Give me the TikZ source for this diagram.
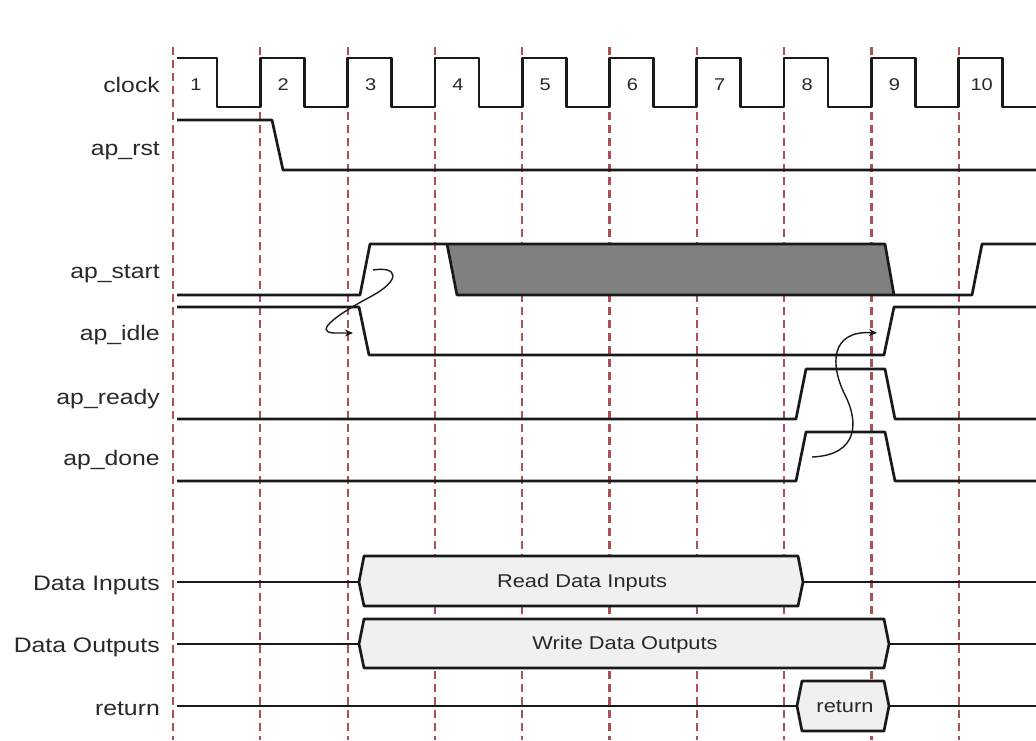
\documentclass[tikz,border=0pt]{standalone}
\usepackage{fontspec}
\setmainfont{Liberation Sans}[FakeStretch=1.18]
\usetikzlibrary{arrows.meta}
\definecolor{gridred}{RGB}{172,82,86}
\definecolor{busgrey}{RGB}{240,240,240}
\definecolor{blockgrey}{RGB}{128,128,128}
\definecolor{txt}{RGB}{40,40,40}
\begin{document}
\begin{tikzpicture}[x=1pt,y=-1pt,
  sig/.style={line width=2.7pt, line join=round, draw=black!90},
  gridline/.style={draw=gridred, line width=2.2pt, dash pattern=on 8pt off 5pt},
  lbl/.style={anchor=base east, font=\fontsize{21}{24}\selectfont, text=txt, inner sep=0pt},
  num/.style={font=\fontsize{17}{20}\selectfont, text=txt, inner sep=0pt},
  bustxt/.style={font=\fontsize{18.5}{22}\selectfont, text=txt, inner sep=0pt},
  bus/.style={sig, fill=busgrey},
  cause/.style={line width=1.4pt, draw=black!90, -{Stealth[length=8pt,width=7pt]}}
]
\useasboundingbox (0,0) rectangle (1036,740);
% grid
\foreach \i in {0,...,9} \draw[gridline] ({173+87.3*\i},47) -- ({173+87.3*\i},740);
% labels
\node[lbl] (lclock) at (160,92) {clock};
\node[lbl] (lrst) at (160,155) {ap\_rst};
\node[lbl] (lstart) at (160,278) {ap\_start};
\node[lbl] (lidle) at (160,340) {ap\_idle};
\node[lbl] (lready) at (160,404) {ap\_ready};
\node[lbl] (ldone) at (160,465) {ap\_done};
\node[lbl] (lin) at (160,590) {Data Inputs};
\node[lbl] (lout) at (160,652) {Data Outputs};
\node[lbl] (lret) at (160,715) {return};
% clock
\draw[sig] (177,58) \foreach \i in {0,...,8}{ -- ({217+87.3*\i},58) -- ({217+87.3*\i},107) -- ({260.3+87.3*\i},107) -- ({260.3+87.3*\i},58)} -- (1002.7,58) -- (1002.7,107) -- (1036,107);
\foreach \i in {1,...,10} \node[num] (c\i) at ({173+87.3*(\i-1)+23},85) {\i};
% ap_rst
\draw[sig] (177,120) -- (272,120) -- (283,170) -- (1036,170);
% ap_start
\fill[blockgrey] (447,244) -- (885,244) -- (894,295) -- (457,295) -- cycle;
\draw[sig] (177,295) -- (360,295) -- (370,244) -- (885,244) -- (894,295) -- (972,295) -- (982,244) -- (1036,244);
\draw[sig] (447,244) -- (457,295) -- (894,295);
% ap_idle
\draw[sig] (177,307) -- (359,307) -- (369,355) -- (884,355) -- (894,307) -- (1036,307);
% ap_ready
\draw[sig] (177,419) -- (796,419) -- (806,369) -- (885,369) -- (895,419) -- (1036,419);
% ap_done
\draw[sig] (177,481) -- (796,481) -- (806,432) -- (885,432) -- (895,481) -- (1036,481);
% Data Inputs
\draw[sig] (177,582) -- (359,582);
\draw[bus] (359,582) -- (364,556) -- (798,556) -- (803,582) -- (798,606) -- (364,606) -- cycle;
\draw[sig] (803,582) -- (1036,582);
\node[bustxt] (tin) at (582,583) {Read Data Inputs};
% Data Outputs
\draw[sig] (177,644) -- (359,644);
\draw[bus] (359,644) -- (364,619) -- (884,619) -- (889,644) -- (884,668) -- (364,668) -- cycle;
\draw[sig] (889,644) -- (1036,644);
\node[bustxt] (tout) at (625,645) {Write Data Outputs};
% return
\draw[sig] (177,706) -- (797,706);
\draw[bus] (797,706) -- (802,681) -- (884,681) -- (889,706) -- (884,731) -- (802,731) -- cycle;
\draw[sig] (889,706) -- (1036,706);
\node[bustxt] (tret) at (845,707) {return};
% causality arrows
\draw[cause] (373,270) .. controls (398,266) and (402,280) .. (370,297) .. controls (340,313) and (312,332) .. (334,333) -- (353,333);
\draw[cause] (812,457) .. controls (860,455) and (858,420) .. (845,395) .. controls (830,365) and (830,330) .. (877,333);
\end{tikzpicture}
\end{document}
